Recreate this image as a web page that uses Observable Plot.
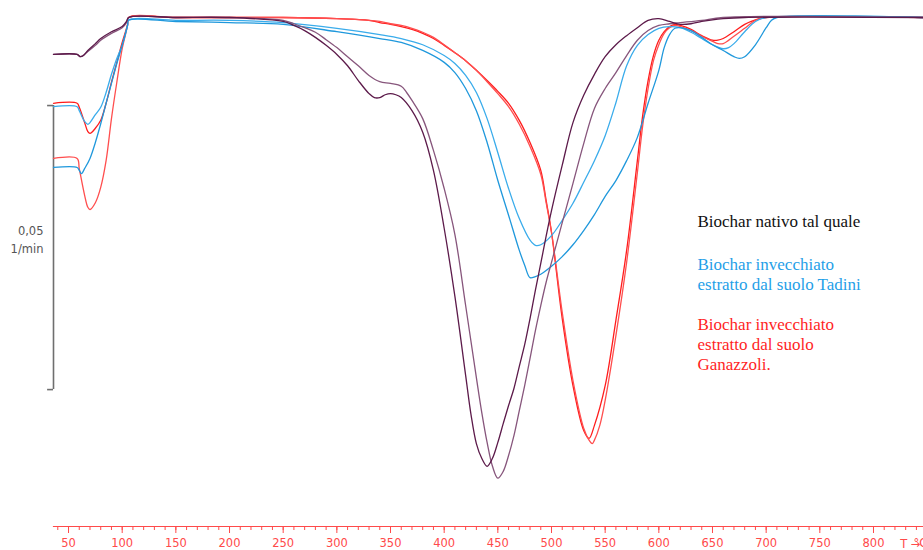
<!DOCTYPE html>
<html><head><meta charset="utf-8">
<script src="https://cdn.jsdelivr.net/npm/d3@7"></script>
<script src="https://cdn.jsdelivr.net/npm/@observablehq/plot@0.6"></script>
<style>html,body{margin:0;padding:0;background:#fff;overflow:hidden}</style>
</head><body>
<div id="chart"></div>
<script>
// Temperature (°C) vs DTG (1/min), baseline 0 at the upper plateau
const purpleA = [[36,-0.0065],[58,-0.0065],[61,-0.0069],[64,-0.0067],[68,-0.0058],[75,-0.0046],[80,-0.0037],[90,-0.0025],[100,-0.0016],[104,-0.0007],[106,0],[150,0],[200,0],[250,-0.0007],[260,-0.0014],[270,-0.0023],[280,-0.0035],[290,-0.0049],[300,-0.0065],[310,-0.0085],[320,-0.0111],[330,-0.0134],[335,-0.0141],[340,-0.0141],[345,-0.0136],[350,-0.0134],[355,-0.0136],[360,-0.0141],[370,-0.0164],[380,-0.0202],[390,-0.0269],[400,-0.0371],[410,-0.0491],[420,-0.0630],[425,-0.0699],[430,-0.0750],[435,-0.0776],[440,-0.0790],[445,-0.0776],[450,-0.0748],[455,-0.0715],[460,-0.0683],[465,-0.0653],[470,-0.0614],[475,-0.0576],[480,-0.0530],[485,-0.0480],[490,-0.0433],[495,-0.0385],[500,-0.0340],[510,-0.0260],[520,-0.0185],[530,-0.0137],[540,-0.0100],[550,-0.0069],[560,-0.0048],[570,-0.0032],[580,-0.0018],[590,-0.0005],[600,-0.0002],[610,-0.0007],[620,-0.0012],[630,-0.0011],[640,-0.0007],[650,-0.0004],[660,-0.0002],[680,0],[846,0]];
const purpleB = [[36,-0.0065],[58,-0.0065],[61,-0.0069],[68,-0.0060],[75,-0.0049],[80,-0.0040],[90,-0.0028],[100,-0.0018],[104,-0.0009],[106,0],[150,0],[200,0],[250,-0.0005],[260,-0.0011],[270,-0.0018],[280,-0.0026],[290,-0.0039],[300,-0.0053],[310,-0.0069],[320,-0.0085],[330,-0.0102],[340,-0.0113],[350,-0.0116],[360,-0.0121],[365,-0.0132],[370,-0.0146],[380,-0.0178],[390,-0.0234],[400,-0.0301],[410,-0.0382],[420,-0.0507],[430,-0.0634],[435,-0.0695],[440,-0.0748],[445,-0.0790],[450,-0.0811],[455,-0.0799],[460,-0.0771],[465,-0.0736],[470,-0.0692],[475,-0.0648],[480,-0.0600],[485,-0.0551],[490,-0.0507],[495,-0.0466],[500,-0.0431],[510,-0.0361],[520,-0.0292],[530,-0.0222],[540,-0.0160],[550,-0.0125],[560,-0.0097],[570,-0.0067],[580,-0.0040],[590,-0.0023],[600,-0.0014],[610,-0.0011],[620,-0.0009],[640,-0.0005],[660,0],[846,0]];
const blueA = [[36,-0.0157],[58,-0.0157],[60,-0.0164],[65,-0.0183],[68,-0.0188],[70,-0.0185],[75,-0.0171],[80,-0.0158],[85,-0.0132],[90,-0.0100],[95,-0.0072],[100,-0.0049],[105,-0.0014],[106,-0.0004],[150,-0.0005],[200,-0.0005],[250,-0.0009],[300,-0.0019],[340,-0.0030],[360,-0.0037],[380,-0.0048],[400,-0.0067],[410,-0.0081],[420,-0.0102],[430,-0.0132],[440,-0.0178],[450,-0.0238],[460,-0.0301],[470,-0.0354],[480,-0.0392],[485,-0.0401],[490,-0.0400],[500,-0.0384],[510,-0.0357],[520,-0.0327],[530,-0.0290],[540,-0.0252],[550,-0.0208],[560,-0.0150],[570,-0.0085],[580,-0.0049],[590,-0.0030],[600,-0.0019],[610,-0.0016],[620,-0.0018],[630,-0.0026],[640,-0.0037],[650,-0.0048],[660,-0.0055],[665,-0.0053],[670,-0.0046],[680,-0.0025],[690,-0.0007],[700,0],[846,0]];
const blueB = [[36,-0.0264],[58,-0.0264],[60,-0.0269],[62,-0.0275],[65,-0.0266],[70,-0.0248],[75,-0.0220],[80,-0.0187],[85,-0.0151],[90,-0.0116],[95,-0.0081],[100,-0.0049],[105,-0.0014],[106,-0.0005],[150,-0.0007],[200,-0.0009],[250,-0.0012],[300,-0.0025],[340,-0.0037],[360,-0.0044],[380,-0.0058],[400,-0.0079],[410,-0.0097],[420,-0.0125],[430,-0.0164],[440,-0.0220],[450,-0.0287],[460,-0.0348],[470,-0.0410],[475,-0.0436],[480,-0.0458],[485,-0.0456],[490,-0.0452],[500,-0.0438],[510,-0.0421],[520,-0.0400],[530,-0.0375],[540,-0.0347],[550,-0.0315],[560,-0.0287],[570,-0.0252],[580,-0.0211],[590,-0.0151],[600,-0.0093],[605,-0.0053],[610,-0.0030],[615,-0.0019],[620,-0.0018],[630,-0.0023],[640,-0.0035],[650,-0.0048],[660,-0.0058],[670,-0.0069],[675,-0.0072],[680,-0.0069],[690,-0.0048],[700,-0.0018],[705,-0.0005],[710,0],[846,0]];
const redA = [[36,-0.0151],[58,-0.0151],[60,-0.0158],[65,-0.0185],[68,-0.0201],[70,-0.0204],[75,-0.0195],[80,-0.0181],[85,-0.0151],[90,-0.0114],[95,-0.0079],[100,-0.0044],[105,-0.0012],[106,0],[150,0],[200,0],[250,0],[300,-0.0002],[330,-0.0005],[340,-0.0009],[350,-0.0012],[360,-0.0016],[370,-0.0021],[380,-0.0028],[390,-0.0037],[400,-0.0049],[410,-0.0062],[420,-0.0076],[430,-0.0093],[440,-0.0111],[450,-0.0130],[460,-0.0151],[470,-0.0181],[480,-0.0220],[490,-0.0269],[495,-0.0322],[500,-0.0378],[510,-0.0530],[520,-0.0648],[530,-0.0727],[535,-0.0741],[540,-0.0718],[550,-0.0648],[560,-0.0533],[570,-0.0410],[580,-0.0252],[585,-0.0172],[590,-0.0111],[595,-0.0067],[600,-0.0040],[605,-0.0025],[610,-0.0016],[615,-0.0012],[620,-0.0014],[630,-0.0021],[640,-0.0032],[650,-0.0040],[655,-0.0040],[660,-0.0037],[670,-0.0025],[680,-0.0012],[690,-0.0004],[700,0],[846,0]];
const redB = [[36,-0.0248],[58,-0.0248],[60,-0.0266],[65,-0.0313],[68,-0.0334],[70,-0.0338],[75,-0.0326],[80,-0.0299],[85,-0.0252],[90,-0.0178],[95,-0.0114],[100,-0.0055],[105,-0.0014],[106,0],[150,0],[200,0],[250,0],[300,-0.0002],[330,-0.0005],[340,-0.0007],[350,-0.0011],[360,-0.0014],[370,-0.0019],[380,-0.0026],[390,-0.0035],[400,-0.0048],[410,-0.0062],[420,-0.0076],[430,-0.0093],[440,-0.0113],[450,-0.0134],[460,-0.0157],[470,-0.0188],[480,-0.0227],[490,-0.0276],[495,-0.0326],[500,-0.0378],[510,-0.0519],[520,-0.0639],[530,-0.0723],[535,-0.0744],[538,-0.0750],[540,-0.0744],[545,-0.0718],[550,-0.0674],[560,-0.0560],[570,-0.0431],[580,-0.0273],[585,-0.0190],[590,-0.0125],[595,-0.0076],[600,-0.0048],[605,-0.0028],[610,-0.0018],[615,-0.0014],[620,-0.0016],[630,-0.0023],[640,-0.0033],[650,-0.0042],[655,-0.0046],[660,-0.0046],[670,-0.0033],[680,-0.0019],[690,-0.0005],[700,0],[846,0]];

const majorTicks = d3.range(50, 801, 50);
const minorTicks = d3.range(40, 846, 10);
const unitLabel = "°C";
const scaleBar = {value: 0.05, top: -0.0155, label: "0,05\n1/min"};
const legendNative = "Biochar nativo tal quale";
const legendTadini = "Biochar invecchiato\nestratto dal suolo Tadini";
const legendGanazzoli = "Biochar invecchiato\nestratto dal suolo\nGanazzoli.";

const toRows = (arr) => arr.map(([T, v]) => ({T, v}));
const red = "#ff4a4a";
const serif = "'Liberation Serif', 'Times New Roman', serif";

const lineOpts = (color) => ({x: "T", y: "v", stroke: color, strokeWidth: 1.3, curve: "catmull-rom"});

const chart = Plot.plot({
  width: 923,
  height: 550,
  marginLeft: 53,
  marginRight: 0,
  marginTop: 17,
  marginBottom: 24,
  x: {domain: [36, 846.6], axis: null},
  y: {domain: [-0.0896, 0], axis: null},
  style: {background: "#fff", fontFamily: "'DejaVu Sans', sans-serif"},
  marks: [
    Plot.frame({anchor: "bottom", stroke: red, strokeWidth: 1.2}),
    Plot.axisX({ticks: minorTicks, tickSize: 4, stroke: red, fill: "none"}),
    Plot.axisX({ticks: majorTicks, tickSize: 7, tickPadding: 5, stroke: red, fill: red, fontSize: 11.5, tickFormat: d3.format("d")}),
    Plot.text([unitLabel], {frameAnchor: "bottom-right", dx: -10, dy: 12, lineAnchor: "top", textAnchor: "start", fill: red, fontSize: 11.5}),
    // scale bar
    Plot.ruleX([36], {y1: scaleBar.top, y2: scaleBar.top - scaleBar.value, stroke: "#6f6f6f", strokeWidth: 1.6}),
    Plot.ruleY([scaleBar.top, scaleBar.top - scaleBar.value], {x1: 30.5, x2: 36, stroke: "#6f6f6f", strokeWidth: 1.6}),
    Plot.text([scaleBar.label], {x: 36, y: scaleBar.top - scaleBar.value / 2, dx: -10, dy: -9, textAnchor: "end", lineAnchor: "middle", lineHeight: 1.5, fill: "#555", fontSize: 11.5}),
    // curves
    Plot.line(toRows(redA), lineOpts("#ff1c1c")),
    Plot.line(toRows(redB), lineOpts("#ff4e4e")),
    Plot.line(toRows(blueA), lineOpts("#3aaceb")),
    Plot.line(toRows(blueB), lineOpts("#1f98dc")),
    Plot.line(toRows(purpleB), lineOpts("#87567c")),
    Plot.line(toRows(purpleA), lineOpts("#5c1a4a")),
    // legend
    Plot.text([legendNative], {frameAnchor: "top-left", dx: 644, dy: 197.6, textAnchor: "start", lineAnchor: "top", fill: "#111", fontSize: 17, fontFamily: serif}),
    Plot.text([legendTadini], {frameAnchor: "top-left", dx: 644, dy: 238.6, textAnchor: "start", lineAnchor: "top", lineHeight: 1.16, fill: "#1fa0e8", fontSize: 17, fontFamily: serif}),
    Plot.text([legendGanazzoli], {frameAnchor: "top-left", dx: 644, dy: 298.6, textAnchor: "start", lineAnchor: "top", lineHeight: 1.17, fill: "#ff1f1f", fontSize: 17, fontFamily: serif})
  ]
});
document.getElementById("chart").appendChild(chart);
</script>
</body></html>
